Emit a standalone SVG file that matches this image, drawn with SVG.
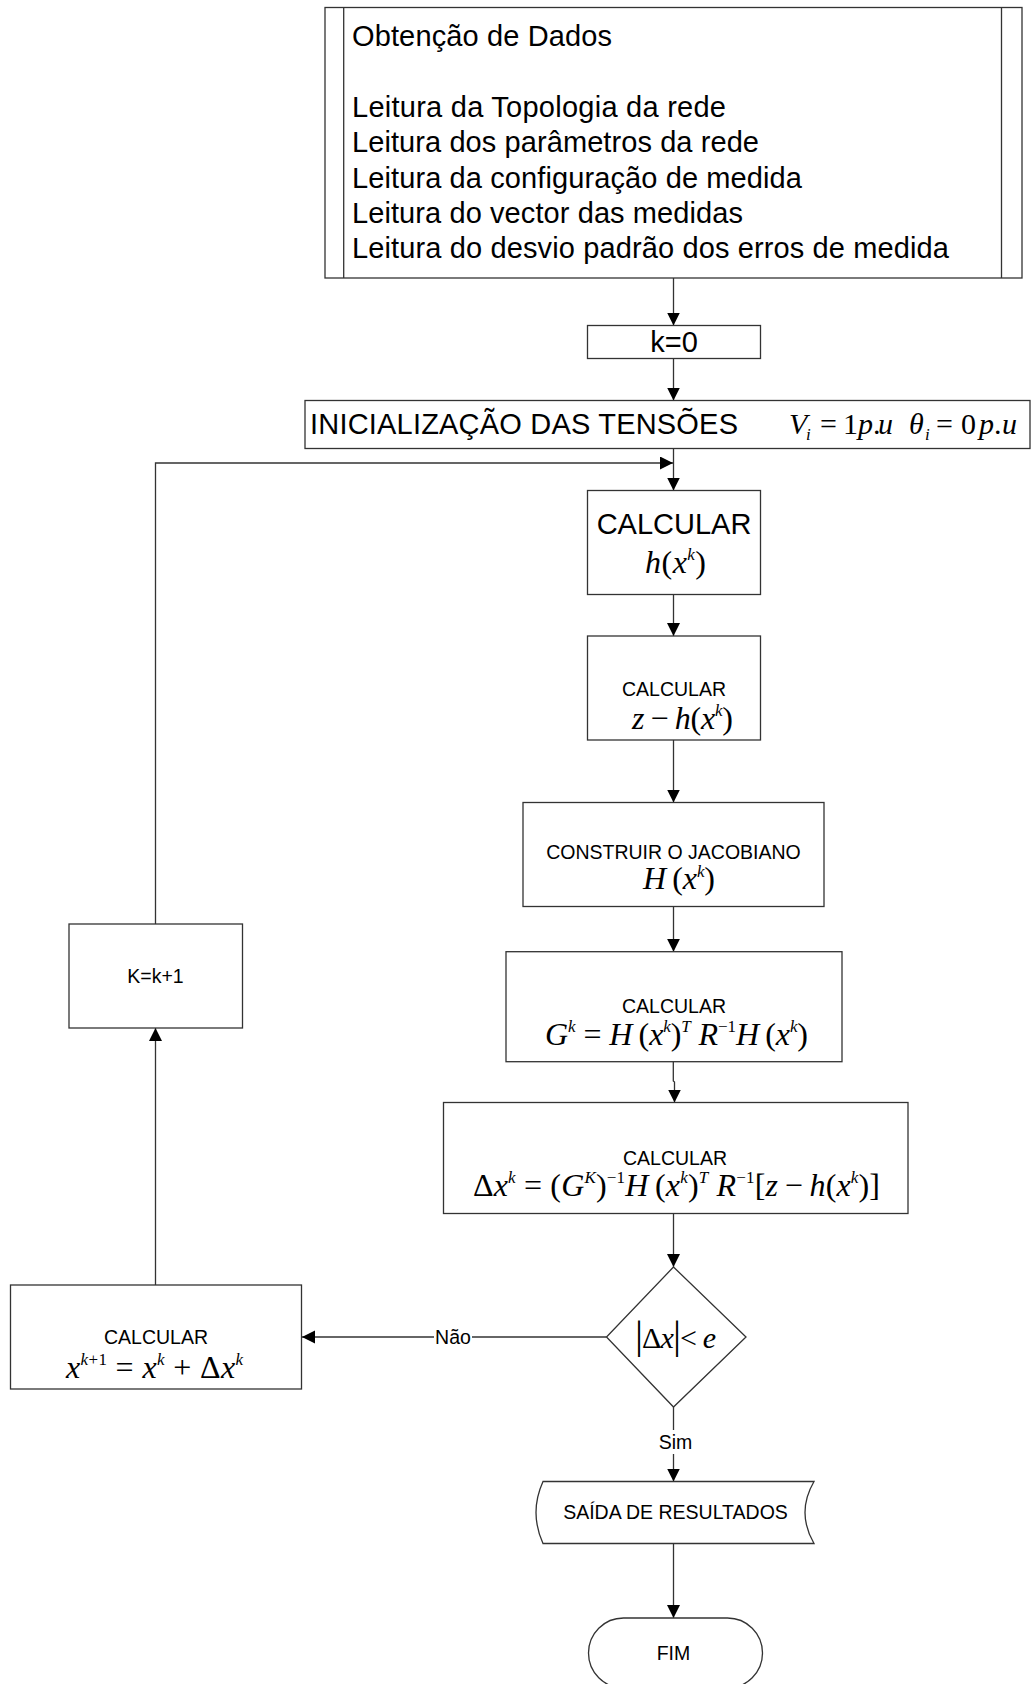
<svg xmlns="http://www.w3.org/2000/svg" width="1031" height="1684" viewBox="0 0 1031 1684">
  <style>
    .box { fill: #fff; stroke: #333; stroke-width: 1.3; }
    .line { fill: none; stroke: #333; stroke-width: 1.3; }
    .arrow { marker-end: url(#head); }
    .big { font-family: "Liberation Sans", Arial, sans-serif; font-size: 29px; fill: #000; }
    .small { font-family: "Liberation Sans", Arial, sans-serif; font-size: 19.5px; fill: #000; }
    .c { text-anchor: middle; }
    .m { font-family: "Liberation Serif", "Times New Roman", serif; font-size: 32px; fill: #000; }
    .m30 { font-size: 30px; }
    .i { font-style: italic; }
    .s { font-size: 17px; }
    .bar { font-size: 40px; }
  </style>
  <defs>
    <marker id="head" markerUnits="userSpaceOnUse" markerWidth="14" markerHeight="14" refX="13" refY="6.5" orient="auto">
      <path d="M0,0 L13,6.5 L0,13 Z" fill="#000"/>
    </marker>
  </defs>

  <rect width="1031" height="1684" fill="#fff"/>

  <!-- connectors -->
  <g id="connectors">
    <line class="line arrow" x1="673.5" y1="278" x2="673.5" y2="325.5"/>
    <line class="line arrow" x1="673.5" y1="358.5" x2="673.5" y2="400.5"/>
    <line class="line arrow" x1="673.5" y1="448.5" x2="673.5" y2="490.5"/>
    <polyline class="line arrow" points="155.5,924 155.5,463 673,463"/>
    <line class="line arrow" x1="673.5" y1="594.5" x2="673.5" y2="636"/>
    <line class="line arrow" x1="673.5" y1="740" x2="673.5" y2="802.5"/>
    <line class="line arrow" x1="673.5" y1="906.5" x2="673.5" y2="951.7"/>
    <polyline class="line arrow" points="673.3,1061.5 673.3,1081 674.5,1082 674.5,1102.5"/>
    <line class="line arrow" x1="673.5" y1="1213.5" x2="673.5" y2="1267"/>
    <line class="line arrow" x1="606.5" y1="1337" x2="302" y2="1337"/>
    <line class="line arrow" x1="155.5" y1="1285" x2="155.5" y2="1028"/>
    <line class="line arrow" x1="673.5" y1="1407" x2="673.5" y2="1481.5"/>
    <line class="line arrow" x1="673.5" y1="1543.5" x2="673.5" y2="1618"/>
    <!-- branch labels -->
    <rect x="434" y="1325" width="38" height="24" fill="#fff"/>
    <text class="small c" x="453" y="1344">Não</text>
    <rect x="656" y="1430" width="39" height="24" fill="#fff"/>
    <text class="small c" x="675.5" y="1449">Sim</text>
  </g>

  <!-- data input -->
  <g id="dados">
    <rect class="box" x="325" y="7.5" width="697" height="270.5"/>
    <line class="line" x1="343.7" y1="7.5" x2="343.7" y2="278"/>
    <line class="line" x1="1001.5" y1="7.5" x2="1001.5" y2="278"/>
    <text class="big" x="352" y="46" textLength="260">Obtenção de Dados</text>
    <text class="big" x="352" y="117" textLength="374">Leitura da Topologia da rede</text>
    <text class="big" x="352" y="152.3" textLength="407">Leitura dos parâmetros da rede</text>
    <text class="big" x="352" y="187.6" textLength="450">Leitura da configuração de medida</text>
    <text class="big" x="352" y="222.9" textLength="391">Leitura do vector das medidas</text>
    <text class="big" x="352" y="258.2" textLength="597">Leitura do desvio padrão dos erros de medida</text>
  </g>

  <g id="k0">
    <rect class="box" x="587.5" y="325.5" width="173" height="33"/>
    <text class="big c" x="674" y="352">k=0</text>
  </g>

  <g id="inicializacao">
    <rect class="box" x="305" y="400.5" width="725" height="48"/>
    <text class="big" x="310" y="434" textLength="428">INICIALIZAÇÃO DAS TENSÕES</text>
    <text class="m m30" y="434"><tspan class="i" x="789">V</tspan><tspan class="i s" x="806" dy="6">i</tspan><tspan x="820" dy="-6">=</tspan><tspan x="843">1</tspan><tspan class="i" x="858">p</tspan><tspan x="873">.</tspan><tspan class="i" x="878">u</tspan></text>
    <text class="m m30" y="434"><tspan class="i" x="909">θ</tspan><tspan class="i s" x="925" dy="6">i</tspan><tspan x="936" dy="-6">=</tspan><tspan x="961">0</tspan><tspan class="i" x="979">p</tspan><tspan x="994">.</tspan><tspan class="i" x="1002">u</tspan></text>
  </g>

  <g id="calc-h">
    <rect class="box" x="587.5" y="490.5" width="173" height="104"/>
    <text class="big c" x="674" y="534">CALCULAR</text>
    <text class="m" x="645" y="573" textLength="61"><tspan class="i">h</tspan>(<tspan class="i">x</tspan><tspan class="i s" dy="-13">k</tspan><tspan dy="13">)</tspan></text>
  </g>

  <g id="calc-residuo">
    <rect class="box" x="587.5" y="636" width="173" height="104"/>
    <text class="small c" x="674" y="696">CALCULAR</text>
    <text class="m" x="632" y="729" textLength="101"><tspan class="i">z</tspan>&#8201;−&#8201;<tspan class="i">h</tspan>(<tspan class="i">x</tspan><tspan class="i s" dy="-13">k</tspan><tspan dy="13">)</tspan></text>
  </g>

  <g id="jacobiano">
    <rect class="box" x="523" y="802.5" width="301" height="104"/>
    <text class="small c" x="673.5" y="859">CONSTRUIR O JACOBIANO</text>
    <text class="m" x="643" y="889" textLength="72"><tspan class="i">H</tspan>&#8201;(<tspan class="i">x</tspan><tspan class="i s" dy="-12">k</tspan><tspan dy="12">)</tspan></text>
  </g>

  <g id="calc-ganho">
    <rect class="box" x="506" y="951.7" width="336" height="110"/>
    <text class="small c" x="674" y="1013">CALCULAR</text>
    <text class="m" x="545" y="1045" textLength="263"><tspan class="i">G</tspan><tspan class="i s" dy="-13">k</tspan><tspan dy="13"> = </tspan><tspan class="i">H</tspan>&#8201;(<tspan class="i">x</tspan><tspan class="i s" dy="-13">k</tspan><tspan dy="13">)</tspan><tspan class="i s" dy="-13">T</tspan><tspan class="i" dy="13"> R</tspan><tspan class="s" dy="-13">−1</tspan><tspan class="i" dy="13">H</tspan>&#8201;(<tspan class="i">x</tspan><tspan class="i s" dy="-13">k</tspan><tspan dy="13">)</tspan></text>
  </g>

  <g id="calc-delta">
    <rect class="box" x="443.5" y="1102.5" width="464.5" height="111"/>
    <text class="small c" x="675" y="1164.5">CALCULAR</text>
    <text class="m" x="473" y="1196" textLength="407">Δ<tspan class="i">x</tspan><tspan class="i s" dy="-13">k</tspan><tspan dy="13"> = (</tspan><tspan class="i">G</tspan><tspan class="i s" dy="-13">K</tspan><tspan dy="13">)</tspan><tspan class="s" dy="-13">−1</tspan><tspan class="i" dy="13">H</tspan>&#8201;(<tspan class="i">x</tspan><tspan class="i s" dy="-13">k</tspan><tspan dy="13">)</tspan><tspan class="i s" dy="-13">T</tspan><tspan class="i" dy="13"> R</tspan><tspan class="s" dy="-13">−1</tspan><tspan dy="13">[</tspan><tspan class="i">z</tspan>&#8201;−&#8201;<tspan class="i">h</tspan>(<tspan class="i">x</tspan><tspan class="i s" dy="-13">k</tspan><tspan dy="13">)]</tspan></text>
  </g>

  <g id="teste">
    <polygon class="box" points="673.5,1267 746,1337 673.5,1407 606.5,1337"/>
    <text class="m" x="635" y="1348" textLength="81" style="font-size:30px"><tspan class="bar">|</tspan>Δ<tspan class="i">x</tspan><tspan class="bar">|</tspan>&lt; <tspan class="i">e</tspan></text>
  </g>

  <g id="atualiza">
    <rect class="box" x="10.5" y="1285" width="291" height="104"/>
    <text class="small c" x="156" y="1343.5">CALCULAR</text>
    <text class="m" x="66" y="1378" textLength="177"><tspan class="i">x</tspan><tspan class="s" dy="-13"><tspan class="i">k</tspan>+1</tspan><tspan dy="13"> = </tspan><tspan class="i">x</tspan><tspan class="i s" dy="-13">k</tspan><tspan dy="13"> + Δ</tspan><tspan class="i">x</tspan><tspan class="i s" dy="-13">k</tspan></text>
  </g>

  <g id="incremento">
    <rect class="box" x="69" y="924" width="173.5" height="104"/>
    <text class="small c" x="155.5" y="983">K=k+1</text>
  </g>

  <g id="saida">
    <path class="box" d="M543,1481.5 L814,1481.5 Q796,1512.5 814,1543.5 L543,1543.5 Q529,1512.5 543,1481.5 Z"/>
    <text class="small c" x="675.5" y="1519">SAÍDA DE RESULTADOS</text>
  </g>

  <g id="fim">
    <rect class="box" x="588.5" y="1618" width="174" height="70" rx="35" ry="35"/>
    <text class="small c" x="673.5" y="1660">FIM</text>
  </g>
</svg>
